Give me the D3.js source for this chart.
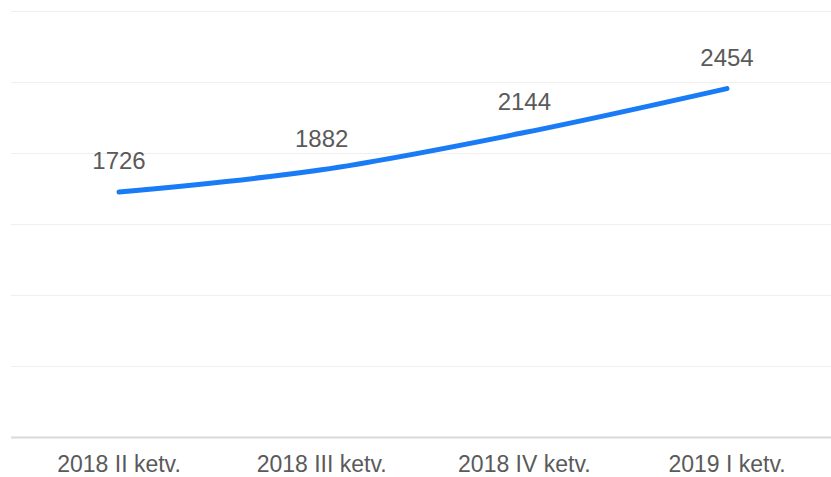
<!DOCTYPE html>
<html>
<head>
<meta charset="utf-8">
<script src="https://cdn.jsdelivr.net/npm/d3@7"></script>
<style>
  body { margin: 0; background: #fff; }
  text { font-family: "Liberation Sans", Arial, sans-serif; }
</style>
</head>
<body>
<div id="chart"></div>
<script>
let categories = ["2018 II ketv.", "2018 III ketv.", "2018 IV ketv.", "2019 I ketv."];
let values = [1726, 1882, 2144, 2454];
let yTicks = [0, 500, 1000, 1500, 2000, 2500, 3000];

let width = 831, height = 477;
let plotTop = 11, plotBottom = 437;

let svg = d3.select("#chart").append("svg")
  .attr("width", width)
  .attr("height", height);

let xScale = d3.scalePoint().domain(categories).range([119, 727]);
let yScale = d3.scaleLinear().domain([0, 3000]).range([plotBottom, plotTop]);

// gridlines
svg.append("g")
  .selectAll("line")
  .data(yTicks)
  .join("line")
  .attr("x1", 11)
  .attr("x2", width)
  .attr("y1", d => yScale(d) + 0.5)
  .attr("y2", d => yScale(d) + 0.5)
  .attr("stroke", d => d === 0 ? "#d9d9d9" : "#efefef")
  .attr("stroke-width", d => d === 0 ? 2 : 1);

// x labels
svg.append("g")
  .selectAll("text")
  .data(categories)
  .join("text")
  .attr("x", d => xScale(d))
  .attr("y", 472)
  .attr("text-anchor", "middle")
  .attr("font-size", 23)
  .attr("fill", "#5a5a5a")
  .text(d => d);

let line = d3.line()
  .x((d, i) => xScale(categories[i]))
  .y(d => yScale(d))
  .curve(d3.curveMonotoneX);

svg.append("path")
  .datum(values)
  .attr("d", line)
  .attr("fill", "none")
  .attr("stroke", "#1a7bf6")
  .attr("stroke-width", 5)
  .attr("stroke-linecap", "round");

// value labels
svg.append("g")
  .selectAll("text")
  .data(values)
  .join("text")
  .attr("x", (d, i) => xScale(categories[i]))
  .attr("y", d => yScale(d) - 23)
  .attr("text-anchor", "middle")
  .attr("font-size", 24)
  .attr("fill", "#5a5a5a")
  .text(d => d);
</script>
</body>
</html>
